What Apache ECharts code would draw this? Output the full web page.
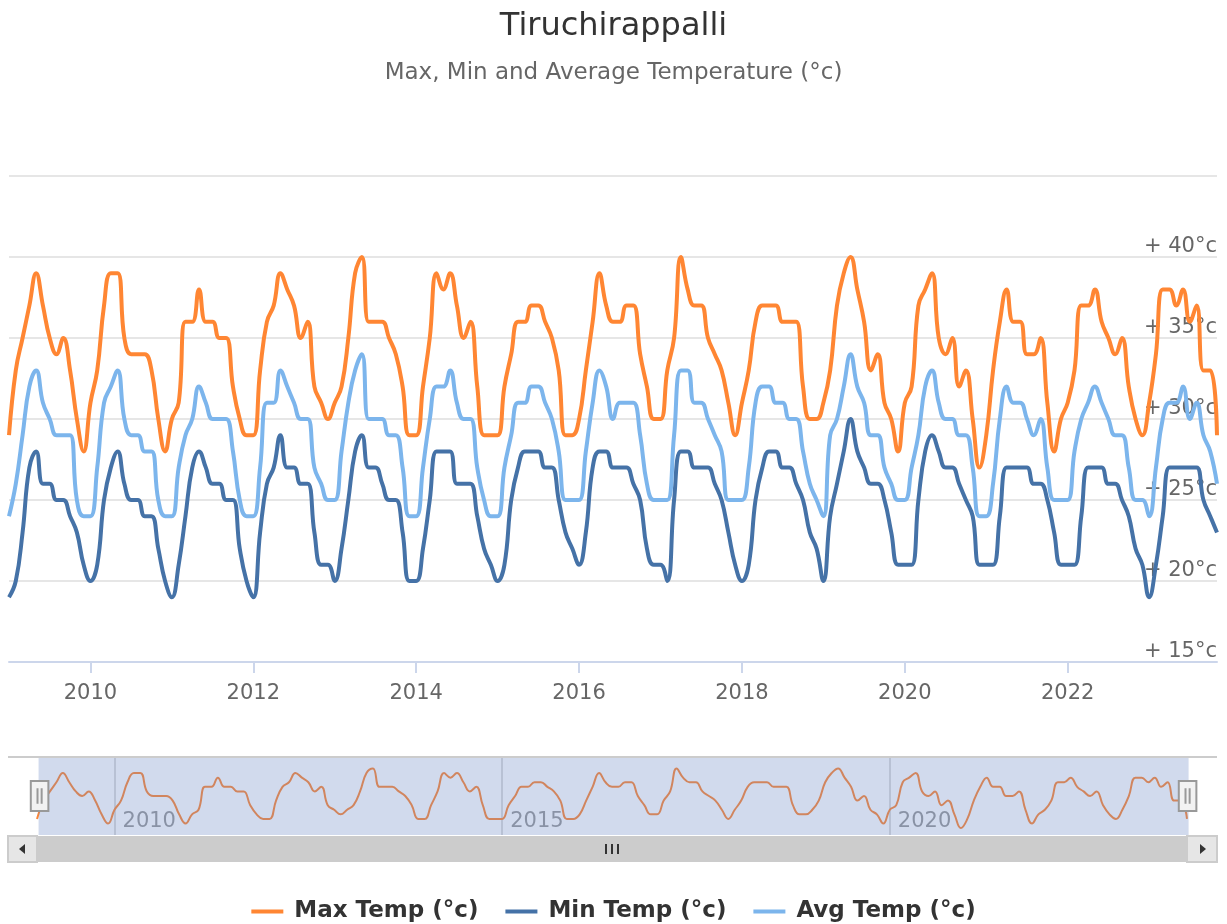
<!DOCTYPE html>
<html>
<head>
<meta charset="utf-8">
<title>Tiruchirappalli</title>
<script src="https://cdn.jsdelivr.net/npm/echarts@6/dist/echarts.min.js"></script>
<style>
  html, body { margin: 0; padding: 0; background: #fff; }
  #myChart { width: 1227px; height: 924px; }
</style>
</head>
<body>
<div id="myChart"></div>
<script>
// monthly values, Jan 2009 .. Nov 2023
var maxTemp = [
  29, 33, 35, 37, 39, 37, 35, 34, 35, 33, 30, 28,
  31, 33, 37, 39, 39, 35, 34, 34, 34, 33, 30, 28,
  30, 31, 36, 36, 38, 36, 36, 35, 35, 32, 30, 29,
  29, 33, 36, 37, 39, 38, 37, 35, 36, 32, 31, 30,
  31, 32, 35, 39, 40, 36, 36, 36, 35, 34, 32, 29,
  29, 32, 35, 39, 38, 39, 37, 35, 36, 32, 29, 29,
  29, 32, 34, 36, 36, 37, 37, 36, 35, 33, 29, 29,
  30, 33, 36, 39, 37, 36, 36, 37, 37, 34, 32, 30,
  30, 33, 35, 40, 38, 37, 37, 35, 34, 33, 31, 29,
  31, 33, 36, 37, 37, 37, 36, 36, 36, 32, 30, 30,
  31, 33, 37, 39, 40, 38, 36, 33, 34, 31, 30, 28,
  31, 32, 37, 38, 39, 35, 34, 35, 32, 33, 30, 27,
  29, 33, 36, 38, 36, 36, 34, 34, 35, 31, 28, 30,
  31, 33, 37, 37, 38, 36, 35, 34, 35, 32, 30, 29,
  31, 34, 38, 38, 37, 38, 36, 37, 33, 33, 29
];
var minTemp = [
  19, 20, 23, 27, 28, 26, 26, 25, 25, 24, 23, 21,
  20, 21, 25, 27, 28, 26, 25, 25, 24, 24, 22, 20,
  19, 21, 24, 27, 28, 27, 26, 26, 25, 25, 22, 20,
  19, 23, 26, 27, 29, 27, 27, 26, 26, 23, 21, 21,
  20, 22, 25, 28, 29, 27, 27, 26, 25, 25, 23, 20,
  20, 22, 25, 28, 28, 28, 26, 26, 26, 24, 22, 21,
  20, 21, 25, 27, 28, 28, 28, 27, 27, 25, 23, 22,
  21, 23, 27, 28, 28, 27, 27, 27, 26, 25, 22, 21,
  21, 20, 25, 28, 28, 27, 27, 27, 26, 25, 23, 21,
  20, 21, 25, 27, 28, 28, 27, 27, 26, 25, 23, 22,
  20, 24, 26, 28, 30, 28, 27, 26, 26, 25, 23, 21,
  21, 21, 25, 28, 29, 28, 27, 27, 26, 25, 24, 21,
  21, 21, 24, 27, 27, 27, 27, 26, 26, 25, 23, 21,
  21, 21, 24, 27, 27, 27, 26, 26, 25, 24, 22, 21,
  19, 21, 24, 27, 27, 27, 27, 27, 25, 24, 23
];
var avgTemp = [
  24, 26, 29, 32, 33, 31, 30, 29, 29, 29, 25, 24,
  24, 27, 31, 32, 33, 30, 29, 29, 28, 28, 25, 24,
  24, 27, 29, 30, 32, 31, 30, 30, 30, 28, 25, 24,
  24, 27, 31, 31, 33, 32, 31, 30, 30, 27, 26, 25,
  25, 28, 31, 33, 34, 30, 30, 30, 29, 29, 27, 24,
  24, 27, 30, 32, 32, 33, 31, 30, 30, 27, 25, 24,
  24, 27, 29, 31, 31, 32, 32, 31, 30, 28, 25, 25,
  25, 28, 31, 33, 32, 30, 31, 31, 31, 29, 26, 25,
  25, 25, 29, 33, 33, 31, 31, 30, 29, 28, 25, 25,
  25, 27, 31, 32, 32, 31, 31, 30, 30, 28, 26, 25,
  24, 29, 30, 32, 34, 32, 31, 29, 29, 27, 26, 25,
  25, 27, 29, 32, 33, 31, 30, 30, 29, 29, 27, 24,
  24, 26, 30, 32, 31, 31, 30, 29, 30, 27, 25, 25,
  25, 28, 30, 31, 32, 31, 30, 29, 29, 27, 25, 25,
  24, 27, 30, 31, 31, 32, 30, 31, 29, 28, 26
];
var axisYears = ['2010', '2012', '2014', '2016', '2018', '2020', '2022'];
var navYears = ['2010', '2015', '2020'];

var months = [];
for (var i = 0; i < maxTemp.length; i++) {
  var y = 2009 + Math.floor(i / 12);
  var m = i % 12 + 1;
  months.push(y + '-' + (m < 10 ? '0' + m : m));
}

function yearOf(v) { return v.slice(0, 4); }
function isAxisYear(idx, v) { return v.slice(5) === '01' && axisYears.indexOf(yearOf(v)) > -1; }
function isNavYear(idx, v) { return v.slice(5) === '01' && navYears.indexOf(yearOf(v)) > -1; }

var font = 'DejaVu Sans';
var chart = echarts.init(document.getElementById('myChart'));

var options = {
  backgroundColor: '#fff',
  animation: false,
  title: {
    text: 'Tiruchirappalli',
    subtext: 'Max, Min and Average Temperature (°c)',
    left: 'center',
    top: 6,
    itemGap: 19,
    textStyle: { fontFamily: font, fontSize: 32, fontWeight: 'normal', color: '#333' },
    subtextStyle: { fontFamily: font, fontSize: 23, color: '#666' }
  },
  legend: {
    data: ['Max Temp (°c)', 'Min Temp (°c)', 'Avg Temp (°c)'],
    top: 895,
    left: 'center',
    icon: 'rect',
    itemWidth: 32,
    itemHeight: 4,
    itemGap: 27,
    textStyle: { fontFamily: font, fontSize: 23, fontWeight: 'bold', color: '#333', padding: [0, 0, 0, 6] }
  },
  grid: [
    { left: 9, right: 10, top: 176, bottom: 262, containLabel: false },
    { left: 37, right: 40, top: 757, height: 78, containLabel: false }
  ],
  xAxis: [
    {
      type: 'category',
      gridIndex: 0,
      data: months,
      boundaryGap: false,
      axisLine: { lineStyle: { color: '#ccd6eb', width: 2 } },
      axisTick: { show: true, interval: isAxisYear, length: 11, lineStyle: { color: '#ccd6eb', width: 2 } },
      axisLabel: {
        interval: isAxisYear,
        formatter: function (v) { return yearOf(v); },
        fontFamily: font, fontSize: 21, color: '#666', margin: 21
      },
      splitLine: { show: false }
    },
    {
      type: 'category',
      gridIndex: 1,
      data: months,
      boundaryGap: false,
      axisLine: { show: false },
      axisTick: { show: false },
      axisLabel: {
        inside: true,
        interval: isNavYear,
        formatter: function (v) { return yearOf(v); },
        align: 'left',
        padding: [0, 0, 0, 8],
        margin: 3,
        fontFamily: font, fontSize: 21, color: '#999'
      },
      splitLine: { show: true, interval: isNavYear, lineStyle: { color: '#dcdcdc', width: 2 } }
    }
  ],
  yAxis: [
    {
      type: 'value',
      gridIndex: 0,
      position: 'right',
      min: 15,
      max: 45,
      interval: 5,
      axisLine: { show: false },
      axisTick: { show: false },
      axisLabel: {
        inside: true,
        margin: 0,
        verticalAlign: 'bottom',
        lineHeight: 20,
        fontFamily: font, fontSize: 21, color: '#666',
        formatter: function (v) { return v === 45 ? '' : '+ ' + v + '°c'; }
      },
      splitLine: { lineStyle: { color: '#e6e6e6', width: 2 } }
    },
    {
      type: 'value',
      gridIndex: 1,
      min: 25.5,
      max: 42.5,
      show: false,
      splitLine: { show: false }
    }
  ],
  dataZoom: [
    {
      type: 'slider',
      xAxisIndex: 0,
      filterMode: 'none',
      start: 0,
      end: 100,
      left: 37,
      right: 40,
      top: 757,
      height: 78,
      showDataShadow: false,
      showDetail: false,
      brushSelect: false,
      moveHandleSize: 0,
      backgroundColor: 'rgba(0,0,0,0)',
      borderColor: 'rgba(0,0,0,0)',
      fillerColor: 'rgba(102,133,194,0.3)',
      handleIcon: 'path://M0,0 H17 V29 H0 Z M6.5,7 V22 M10.5,7 V22',
      handleSize: 30,
      handleStyle: { color: '#f2f2f2', borderColor: '#999', borderWidth: 2 },
      emphasis: { handleStyle: { color: '#f2f2f2', borderColor: '#999', borderWidth: 2 } }
    }
  ],
  series: [
    {
      name: 'Max Temp (°c)',
      type: 'line',
      xAxisIndex: 0, yAxisIndex: 0,
      data: maxTemp,
      smooth: 0.45,
      showSymbol: false,
      lineStyle: { width: 4, color: '#ff8633' },
      itemStyle: { color: '#ff8633' }
    },
    {
      name: 'Min Temp (°c)',
      type: 'line',
      xAxisIndex: 0, yAxisIndex: 0,
      data: minTemp,
      smooth: 0.45,
      showSymbol: false,
      lineStyle: { width: 4, color: '#4572a7' },
      itemStyle: { color: '#4572a7' }
    },
    {
      name: 'Avg Temp (°c)',
      type: 'line',
      xAxisIndex: 0, yAxisIndex: 0,
      data: avgTemp,
      smooth: 0.45,
      showSymbol: false,
      lineStyle: { width: 4, color: '#7cb5ec' },
      itemStyle: { color: '#7cb5ec' }
    },
    {
      name: 'navigator',
      type: 'line',
      xAxisIndex: 1, yAxisIndex: 1,
      data: maxTemp,
      smooth: 0.45,
      showSymbol: false,
      silent: true,
      lineStyle: { width: 2, color: '#ff8633' }
    }
  ],
  graphic: [
    // navigator outline and scrollbar
    { type: 'line', shape: { x1: 8, y1: 757, x2: 1217, y2: 757 }, style: { stroke: '#cccccc', lineWidth: 2 }, z: 10 },
    { type: 'rect', shape: { x: 37, y: 836, width: 1150, height: 26 }, style: { fill: '#cccccc' }, z: 10 },
    { type: 'rect', shape: { x: 8, y: 836, width: 29, height: 26 }, style: { fill: '#e6e6e6', stroke: '#cccccc', lineWidth: 2 }, z: 10 },
    { type: 'rect', shape: { x: 1187, y: 836, width: 30, height: 26 }, style: { fill: '#e6e6e6', stroke: '#cccccc', lineWidth: 2 }, z: 10 },
    { type: 'polygon', shape: { points: [[19, 849], [25, 844], [25, 854]] }, style: { fill: '#333' }, z: 11 },
    { type: 'polygon', shape: { points: [[1206, 849], [1200, 844], [1200, 854]] }, style: { fill: '#333' }, z: 11 },
    { type: 'line', shape: { x1: 606, y1: 844, x2: 606, y2: 854 }, style: { stroke: '#333', lineWidth: 2 }, z: 11 },
    { type: 'line', shape: { x1: 612, y1: 844, x2: 612, y2: 854 }, style: { stroke: '#333', lineWidth: 2 }, z: 11 },
    { type: 'line', shape: { x1: 618, y1: 844, x2: 618, y2: 854 }, style: { stroke: '#333', lineWidth: 2 }, z: 11 }
  ]
};

chart.setOption(options);
</script>
</body>
</html>
